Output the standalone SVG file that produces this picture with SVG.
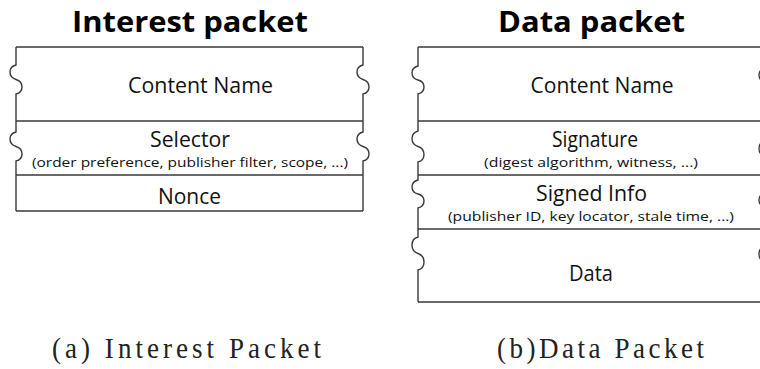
<svg xmlns="http://www.w3.org/2000/svg" width="760" height="369" viewBox="0 0 760 369">
<style>
.ln{fill:none;stroke:#3a3a3a;stroke-width:1.4}
.t{font-family:"Open Sans","Noto Sans","Liberation Sans",sans-serif;fill:#111;text-anchor:middle}
.h{font-size:28px;font-weight:bold;fill:#000}
.m{font-size:21px}
.s{font-size:13.5px}
.c{font-family:"Liberation Serif","DejaVu Serif",serif;font-size:30px;fill:#222}
</style>
<rect width="760" height="369" fill="#fff"/>
<g id="interest">
  <text class="t h" x="190" y="32" textLength="236" lengthAdjust="spacingAndGlyphs">Interest packet</text>
  <path class="ln" d="M16,47 H363 M16,121 H363 M16,175 H363 M16,211 H363"/>
  <path class="ln" d="M16,47 V65 C8,67 8,77 16,79.5 C24,82 24,92 16,94 V132 C8,134 8,144 16,146.5 C24,149 24,159 16,161 V211"/>
  <path class="ln" d="M363,47 V65 C355,67 355,77 363,79.5 C371,82 371,92 363,94 V132 C355,134 355,144 363,146.5 C371,149 371,159 363,161 V211"/>
  <text class="t m" x="200.5" y="93" textLength="145" lengthAdjust="spacingAndGlyphs">Content Name</text>
  <text class="t m" x="190" y="147" textLength="80" lengthAdjust="spacingAndGlyphs">Selector</text>
  <text class="t s" x="190" y="167" textLength="316" lengthAdjust="spacingAndGlyphs">(order preference, publisher filter, scope, ...)</text>
  <text class="t m" x="189.5" y="204" textLength="63" lengthAdjust="spacingAndGlyphs">Nonce</text>
</g>
<g id="data">
  <text class="t h" x="591.5" y="32" textLength="187" lengthAdjust="spacingAndGlyphs">Data packet</text>
  <path class="ln" d="M418,47 H765 M418,121 H765 M418,175 H765 M418,229 H765 M418,302 H765"/>
  <path class="ln" d="M418,47 V66 C410,68 410,78 418,80 C426,82 426,92 418,94 V131 C410,133 410,144 418,146.5 C426,149 426,160 418,162 V180 C410,182 410,192 418,194 C426,196 426,206 418,208 V237 C410,239 410,251 418,253.5 C426,256 426,268 418,270 V302"/>
  <path class="ln" d="M765,47 V68 C757,70 757,80 765,82 C773,84 773,94 765,96 V141 C757,143 757,154 765,156.5 C773,159 773,170 765,172 V193 C757,195 757,205 765,207 C773,209 773,219 765,221 V246 C757,248 757,260 765,262.5 C773,265 773,277 765,279 V302"/>
  <text class="t m" x="602" y="93" textLength="143" lengthAdjust="spacingAndGlyphs">Content Name</text>
  <text class="t m" x="595" y="147" textLength="86" lengthAdjust="spacingAndGlyphs">Signature</text>
  <text class="t s" x="591" y="167" textLength="214" lengthAdjust="spacingAndGlyphs">(digest algorithm, witness, ...)</text>
  <text class="t m" x="591.5" y="201" textLength="111" lengthAdjust="spacingAndGlyphs">Signed Info</text>
  <text class="t s" x="591" y="221" textLength="286" lengthAdjust="spacingAndGlyphs">(publisher ID, key locator, stale time, ...)</text>
  <text class="t m" x="591" y="281" textLength="44" lengthAdjust="spacingAndGlyphs">Data</text>
</g>
<g id="captions" transform="translate(0,358) scale(0.9,1)">
  <text class="c" x="57.8" y="0" textLength="298.9" lengthAdjust="spacing">(a) Interest Packet</text>
  <text class="c" x="552.2" y="0" textLength="230" lengthAdjust="spacing">(b)Data Packet</text>
</g>
</svg>
